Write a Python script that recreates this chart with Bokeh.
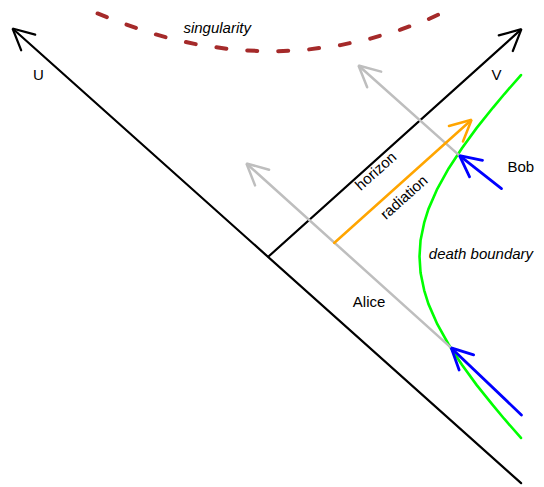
from bokeh.plotting import figure
from bokeh.models import Arrow, OpenHead, ColumnDataSource, Range1d
from bokeh.core.properties import value
from bokeh.embed import file_html
from bokeh.resources import INLINE

# ---- data (diagram coordinates: null lines at 45 degrees) ----
axis_names = ["U", "V"]
axis_x0 = [1.673, 0.0]
axis_y0 = [-1.674, 0.0]
axis_x1 = [-1.695, 1.675]
axis_y1 = [1.684, 1.679]

# infalling worldlines (Alice, Bob): grey part inside, blue part outside
infall_names = ["Alice", "Bob"]
grey_x0 = [1.21, 1.265]
grey_y0 = [-0.675, 0.745]
grey_x1 = [-0.146, 0.596]
grey_y1 = [0.687, 1.411]
blue_x0 = [1.675, 1.543]
blue_y0 = [-1.17, 0.502]
blue_x1 = [1.21, 1.265]
blue_y1 = [-0.675, 0.745]

# radiation ray
rad_x0 = [0.435]
rad_y0 = [0.10]
rad_x1 = [1.345]
rad_y1 = [1.01]

# death boundary (green curve)
death_y = [-1.34, -1.2, -1.1, -0.95, -0.8, -0.65, -0.5, -0.35, -0.25, -0.12, 0.0,
           0.12, 0.25, 0.35, 0.5, 0.65, 0.8, 0.95, 1.1, 1.2, 1.34]
death_x = [1.672, 1.562, 1.487, 1.379, 1.281, 1.193, 1.118, 1.059, 1.031, 1.007, 1.0,
           1.007, 1.031, 1.059, 1.118, 1.193, 1.281, 1.379, 1.487, 1.562, 1.672]

# singularity (dashed curve)
sing_x = [-1.132, -0.980, -0.781, -0.616, -0.450, -0.219, 0.013, 0.245, 0.477, 0.675, 0.874, 1.040, 1.185]
sing_y = [1.795, 1.728, 1.651, 1.600, 1.561, 1.526, 1.514, 1.526, 1.561, 1.609, 1.675, 1.743, 1.817]

# labels
plain_text = ["U", "V", "Bob", "Alice"]
plain_x = [-1.523, 1.51, 1.671, 0.666]
plain_y = [1.344, 1.344, 0.667, -0.330]
italic_text = ["singularity", "death boundary"]
italic_x = [-0.34, 1.407]
italic_y = [1.693, 0.022]
rot_text = ["horizon", "radiation"]
rot_x = [0.708, 0.895]
rot_y = [0.634, 0.440]

FONT = "Liberation Sans"
SIZE = "15px"

p = figure(width=544, height=487, output_backend="svg", toolbar_location=None,
           x_range=Range1d(-1.7748, 1.8278), y_range=Range1d(-1.7061, 1.8907),
           x_axis_type=None, y_axis_type=None, min_border=0)
p.grid.visible = False
p.outline_line_color = None
p.background_fill_color = "white"
p.border_fill_color = "white"


def arrows(x0, y0, x1, y1, color, width):
    src = ColumnDataSource(dict(x0=x0, y0=y0, x1=x1, y1=y1))
    p.add_layout(Arrow(end=OpenHead(size=21, line_color=color, line_width=width, line_cap="round"),
                       x_start="x0", y_start="y0", x_end="x1", y_end="y1", source=src,
                       line_color=color, line_width=width, line_cap="round"))


# singularity
p.line(sing_x, sing_y, line_color="#A52A2A", line_width=4, line_dash="10 21", line_cap="round")

# axes U, V
arrows(axis_x0, axis_y0, axis_x1, axis_y1, "black", 2.2)

# grey worldlines inside
arrows(grey_x0, grey_y0, grey_x1, grey_y1, "#BEBEBE", 2.5)

# radiation
arrows(rad_x0, rad_y0, rad_x1, rad_y1, "#FFA500", 2.5)

# death boundary
p.line(death_x, death_y, line_color="#00FF00", line_width=2.6, line_cap="round")

# blue incoming parts
arrows(blue_x0, blue_y0, blue_x1, blue_y1, "#0000FF", 2.8)

p.text(plain_x, plain_y, text=plain_text, text_font=value(FONT), text_font_size=value(SIZE),
       text_align="center", text_baseline="alphabetic", text_color="black")
p.text(italic_x, italic_y, text=italic_text, text_font=value(FONT), text_font_size=value(SIZE),
       text_font_style="italic", text_align="center", text_baseline="alphabetic", text_color="black")
p.text(rot_x, rot_y, text=rot_text, angle=0.731, text_font=value(FONT), text_font_size=value(SIZE),
       text_align="center", text_baseline="alphabetic", text_color="black")

open("out.html", "w").write(file_html(p, INLINE))
